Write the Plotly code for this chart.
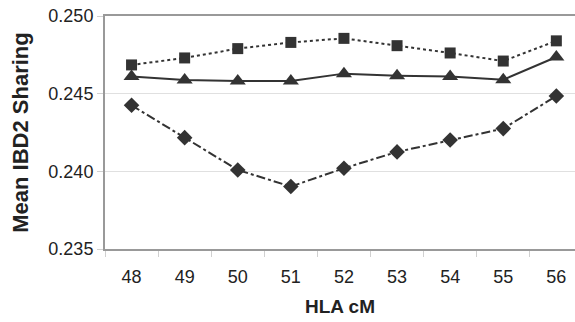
import plotly.graph_objects as go

cm = [48, 49, 50, 51, 52, 53, 54, 55, 56]
series_square = [0.24685, 0.2473, 0.2479, 0.2483, 0.24856, 0.24809, 0.24762, 0.2471, 0.2484]
series_triangle = [0.2461, 0.24588, 0.24582, 0.24582, 0.24629, 0.24616, 0.2461, 0.2459, 0.24736]
series_diamond = [0.24425, 0.24217, 0.24009, 0.23902, 0.2402, 0.24125, 0.24202, 0.24275, 0.24485]
y_ticks = [0.235, 0.240, 0.245, 0.250]

col = "#333333"
fig = go.Figure()
fig.add_trace(go.Scatter(x=cm, y=series_square, mode="lines+markers",
                         line=dict(color=col, width=2, dash="dot"),
                         marker=dict(symbol="square", size=11, color=col)))
fig.add_trace(go.Scatter(x=cm, y=series_triangle, mode="lines+markers",
                         line=dict(color=col, width=2, dash="solid"),
                         marker=dict(symbol="triangle-up", size=14, color=col)))
fig.add_trace(go.Scatter(x=cm, y=series_diamond, mode="lines+markers",
                         line=dict(color=col, width=2, dash="dashdot"),
                         marker=dict(symbol="diamond", size=12, color=col)))

font = "Liberation Sans, Arial, sans-serif"
fig.update_layout(
    width=575, height=322,
    margin=dict(l=105, r=0, t=16, b=73),
    paper_bgcolor="white", plot_bgcolor="white",
    showlegend=False,
    font=dict(family=font, size=18, color="#222"),
)
fig.update_xaxes(
    automargin=False,
    range=[47.5, 47.5 + 470 / 53.1],
    tickvals=cm, ticktext=[str(c) for c in cm],
    ticks="", showgrid=False, zeroline=False,
    ticklabelstandoff=10,
    showline=True, linecolor="#999999", linewidth=2, mirror=True,
    minor=dict(tickvals=[c - 0.5 for c in cm] + [56.5], ticks="outside", ticklen=6,
               tickcolor="#d0d0d0", showgrid=False),
    tickfont=dict(size=18),
    title=dict(text="<b>HLA cM</b>", font=dict(size=19), standoff=14),
)
fig.update_yaxes(
    automargin=False,
    range=[0.235, 0.250],
    tickvals=y_ticks, ticktext=["%.3f" % v for v in y_ticks],
    ticks="outside", ticklen=6, tickcolor="#d0d0d0",
    showgrid=True, gridcolor="#e0e0e0", gridwidth=1, zeroline=False,
    showline=True, linecolor="#999999", linewidth=2,
    tickfont=dict(size=18),
    title=dict(text="<b>Mean IBD2 Sharing</b>", font=dict(size=22), standoff=14),
)
fig.write_html("out.html", config={"displayModeBar": False},
               post_script="document.body.style.margin='0px';")
